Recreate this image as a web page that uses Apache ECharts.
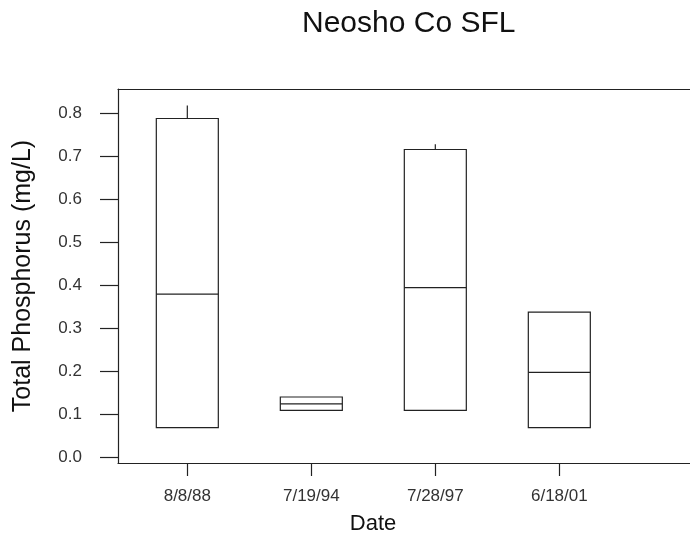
<!DOCTYPE html>
<html>
<head>
<meta charset="utf-8">
<script src="https://cdn.jsdelivr.net/npm/echarts@6/dist/echarts.min.js"></script>
<style>html,body{margin:0;padding:0;background:#fff}#c{width:690px;height:542px}</style>
</head>
<body>
<div id="c"></div>
<script>
var categories = ['8/8/88', '7/19/94', '7/28/97', '6/18/01'];
var minVals    = [0.07, 0.11, 0.11, 0.07];
var q1Vals     = [0.07, 0.11, 0.11, 0.07];
var medianVals = [0.38, 0.125, 0.395, 0.198];
var q3Vals     = [0.788, 0.141, 0.716, 0.338];
var maxVals    = [0.818, 0.141, 0.728, 0.338];
var yTicks = [0, 0.1, 0.2, 0.3, 0.4, 0.5, 0.6, 0.7, 0.8];
var xTicks = [1, 2, 3, 4];

var data = categories.map(function (c, i) {
  return [i + 1, minVals[i], q1Vals[i], medianVals[i], q3Vals[i], maxVals[i]];
});

var chart = echarts.init(document.getElementById('c'));
var lineStyle = { stroke: '#222', lineWidth: 1.2 };
var axisLineStyle = { color: '#222', width: 1.2 };
chart.setOption({
  animation: false,
  backgroundColor: '#fff',
  title: {
    text: 'Neosho Co SFL',
    left: 297, top: 4,
    textStyle: { fontFamily: 'Liberation Sans', fontSize: 30, fontWeight: 'normal', color: '#111' }
  },
  grid: { left: 118, top: 89, right: 0, bottom: 79, show: false },
  xAxis: [{
    type: 'value', min: 0.441, max: 0.441 + 572 / 124,
    name: 'Date', nameLocation: 'middle', nameGap: 50,
    nameTextStyle: { fontFamily: 'Liberation Sans', fontSize: 22, color: '#111', padding: [0, 62, 0, 0] },
    axisLine: { show: true, onZero: false, lineStyle: axisLineStyle },
    splitLine: { show: false },
    axisTick: { show: true, length: 13, customValues: xTicks, lineStyle: axisLineStyle },
    axisLabel: {
      customValues: xTicks, margin: 25,
      fontFamily: 'Liberation Sans', fontSize: 17, color: '#333',
      formatter: function (v) { return categories[Math.round(v) - 1] || ''; }
    }
  }, {
    type: 'value', position: 'top', min: 0.441, max: 0.441 + 572 / 124,
    axisLine: { show: true, onZero: false, lineStyle: axisLineStyle },
    axisTick: { show: false }, axisLabel: { show: false }, splitLine: { show: false }
  }],
  yAxis: {
    type: 'value', min: -0.0123, max: 0.8565,
    name: 'Total Phosphorus (mg/L)', nameLocation: 'middle', nameGap: 82,
    nameTextStyle: { fontFamily: 'Liberation Sans', fontSize: 25, color: '#111' },
    axisLine: { show: true, onZero: false, lineStyle: axisLineStyle },
    splitLine: { show: false },
    axisTick: { show: true, length: 18, customValues: yTicks, lineStyle: axisLineStyle },
    axisLabel: {
      customValues: yTicks, margin: 36,
      fontFamily: 'Liberation Sans', fontSize: 17, color: '#333',
      formatter: function (v) { return v.toFixed(1); }
    }
  },
  series: [{
    type: 'custom',
    data: data,
    xAxisIndex: 0,
    encode: { x: 0, y: [1, 2, 3, 4, 5] },
    renderItem: function (params, api) {
      var x = api.value(0);
      var pMin = api.coord([x, api.value(1)]);
      var pQ1 = api.coord([x, api.value(2)]);
      var pMed = api.coord([x, api.value(3)]);
      var pQ3 = api.coord([x, api.value(4)]);
      var pMax = api.coord([x, api.value(5)]);
      var left = api.coord([x - 0.25, 0])[0];
      var right = api.coord([x + 0.25, 0])[0];
      var children = [
        { type: 'rect', shape: { x: left, y: pQ3[1], width: right - left, height: pQ1[1] - pQ3[1] },
          style: { fill: 'none', stroke: '#222', lineWidth: 1.2 } },
        { type: 'line', shape: { x1: left, y1: pMed[1], x2: right, y2: pMed[1] }, style: lineStyle }
      ];
      if (pMax[1] < pQ3[1]) {
        children.push({ type: 'line', shape: { x1: pMax[0], y1: pMax[1], x2: pQ3[0], y2: pQ3[1] }, style: lineStyle });
      }
      if (pMin[1] > pQ1[1]) {
        children.push({ type: 'line', shape: { x1: pMin[0], y1: pMin[1], x2: pQ1[0], y2: pQ1[1] }, style: lineStyle });
      }
      return { type: 'group', children: children };
    }
  }]
});
</script>
</body>
</html>
